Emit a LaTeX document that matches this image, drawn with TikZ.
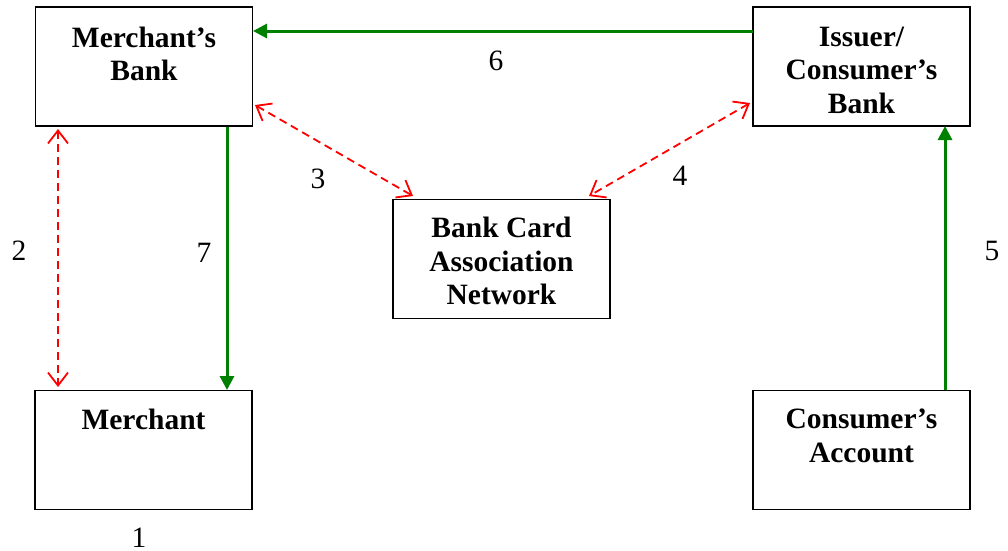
\documentclass[tikz,border=0pt]{standalone}
\usepackage{fontspec}
\setmainfont{Liberation Serif}
\usetikzlibrary{arrows.meta}
\definecolor{dgreen}{RGB}{0,128,0}
\begin{document}
\begin{tikzpicture}[x=1pt,y=-1pt,
  box/.style={draw, line width=1.8pt, minimum width=217pt, minimum height=119pt, inner sep=0pt},
  btext/.style={anchor=north, align=center, font=\fontsize{29.5}{33.5}\selectfont\bfseries, inner sep=0pt},
  num/.style={anchor=base, font=\fontsize{29.5}{33}\selectfont, inner sep=0pt},
  gline/.style={draw=dgreen, line width=3pt, -{Triangle[length=14pt,width=14pt]}},
  rline/.style={draw=red, line width=1.8pt, dash pattern=on 8pt off 5pt, {Straight Barb[length=13pt,width=20pt,line width=1.8pt]}-{Straight Barb[length=13pt,width=20pt,line width=1.8pt]}}
]
\useasboundingbox (0,0) rectangle (1008,550);
\node[box] (mb) at (144,66.5) {};
\node[box] (ib) at (861.5,66.5) {};
\node[box] (bc) at (501.5,259) {};
\node[box] (m) at (143.5,450) {};
\node[box] (ca) at (861.5,450) {};
\node[btext] (mbt) at (144,26.5) {Merchant’s\\Bank};
\node[btext] (ibt) at (861.5,26.5) {Issuer/\\Consumer’s\\Bank};
\node[btext] (bct) at (501.5,217) {Bank Card\\Association\\Network};
\node[btext] (mt) at (143.5,409) {Merchant};
\node[btext] (cat) at (861.5,409) {Consumer’s\\Account};
\coordinate (g6s) at (753,31);
\coordinate (g6e) at (253,31);
\draw[gline] (g6s) -- (g6e);
\coordinate (g7s) at (227,127);
\coordinate (g7e) at (227,390);
\draw[gline] (g7s) -- (g7e);
\coordinate (g5s) at (945,390);
\coordinate (g5e) at (945,126);
\draw[gline] (g5s) -- (g5e);
\coordinate (r2a) at (58,129);
\coordinate (r2b) at (58,387);
\draw[rline] (r2a) -- (r2b);
\coordinate (r3a) at (255,105);
\coordinate (r3b) at (413,196);
\draw[rline] (r3a) -- (r3b);
\coordinate (r4a) at (750,103);
\coordinate (r4b) at (589,196);
\draw[rline] (r4a) -- (r4b);
\node[num] (n6) at (496,70) {6};
\node[num] (n3) at (318,188) {3};
\node[num] (n4) at (680,185) {4};
\node[num] (n2) at (19,260) {2};
\node[num] (n7) at (204,262) {7};
\node[num] (n5) at (992,260) {5};
\node[num] (n1) at (139,547) {1};
\end{tikzpicture}
\end{document}
